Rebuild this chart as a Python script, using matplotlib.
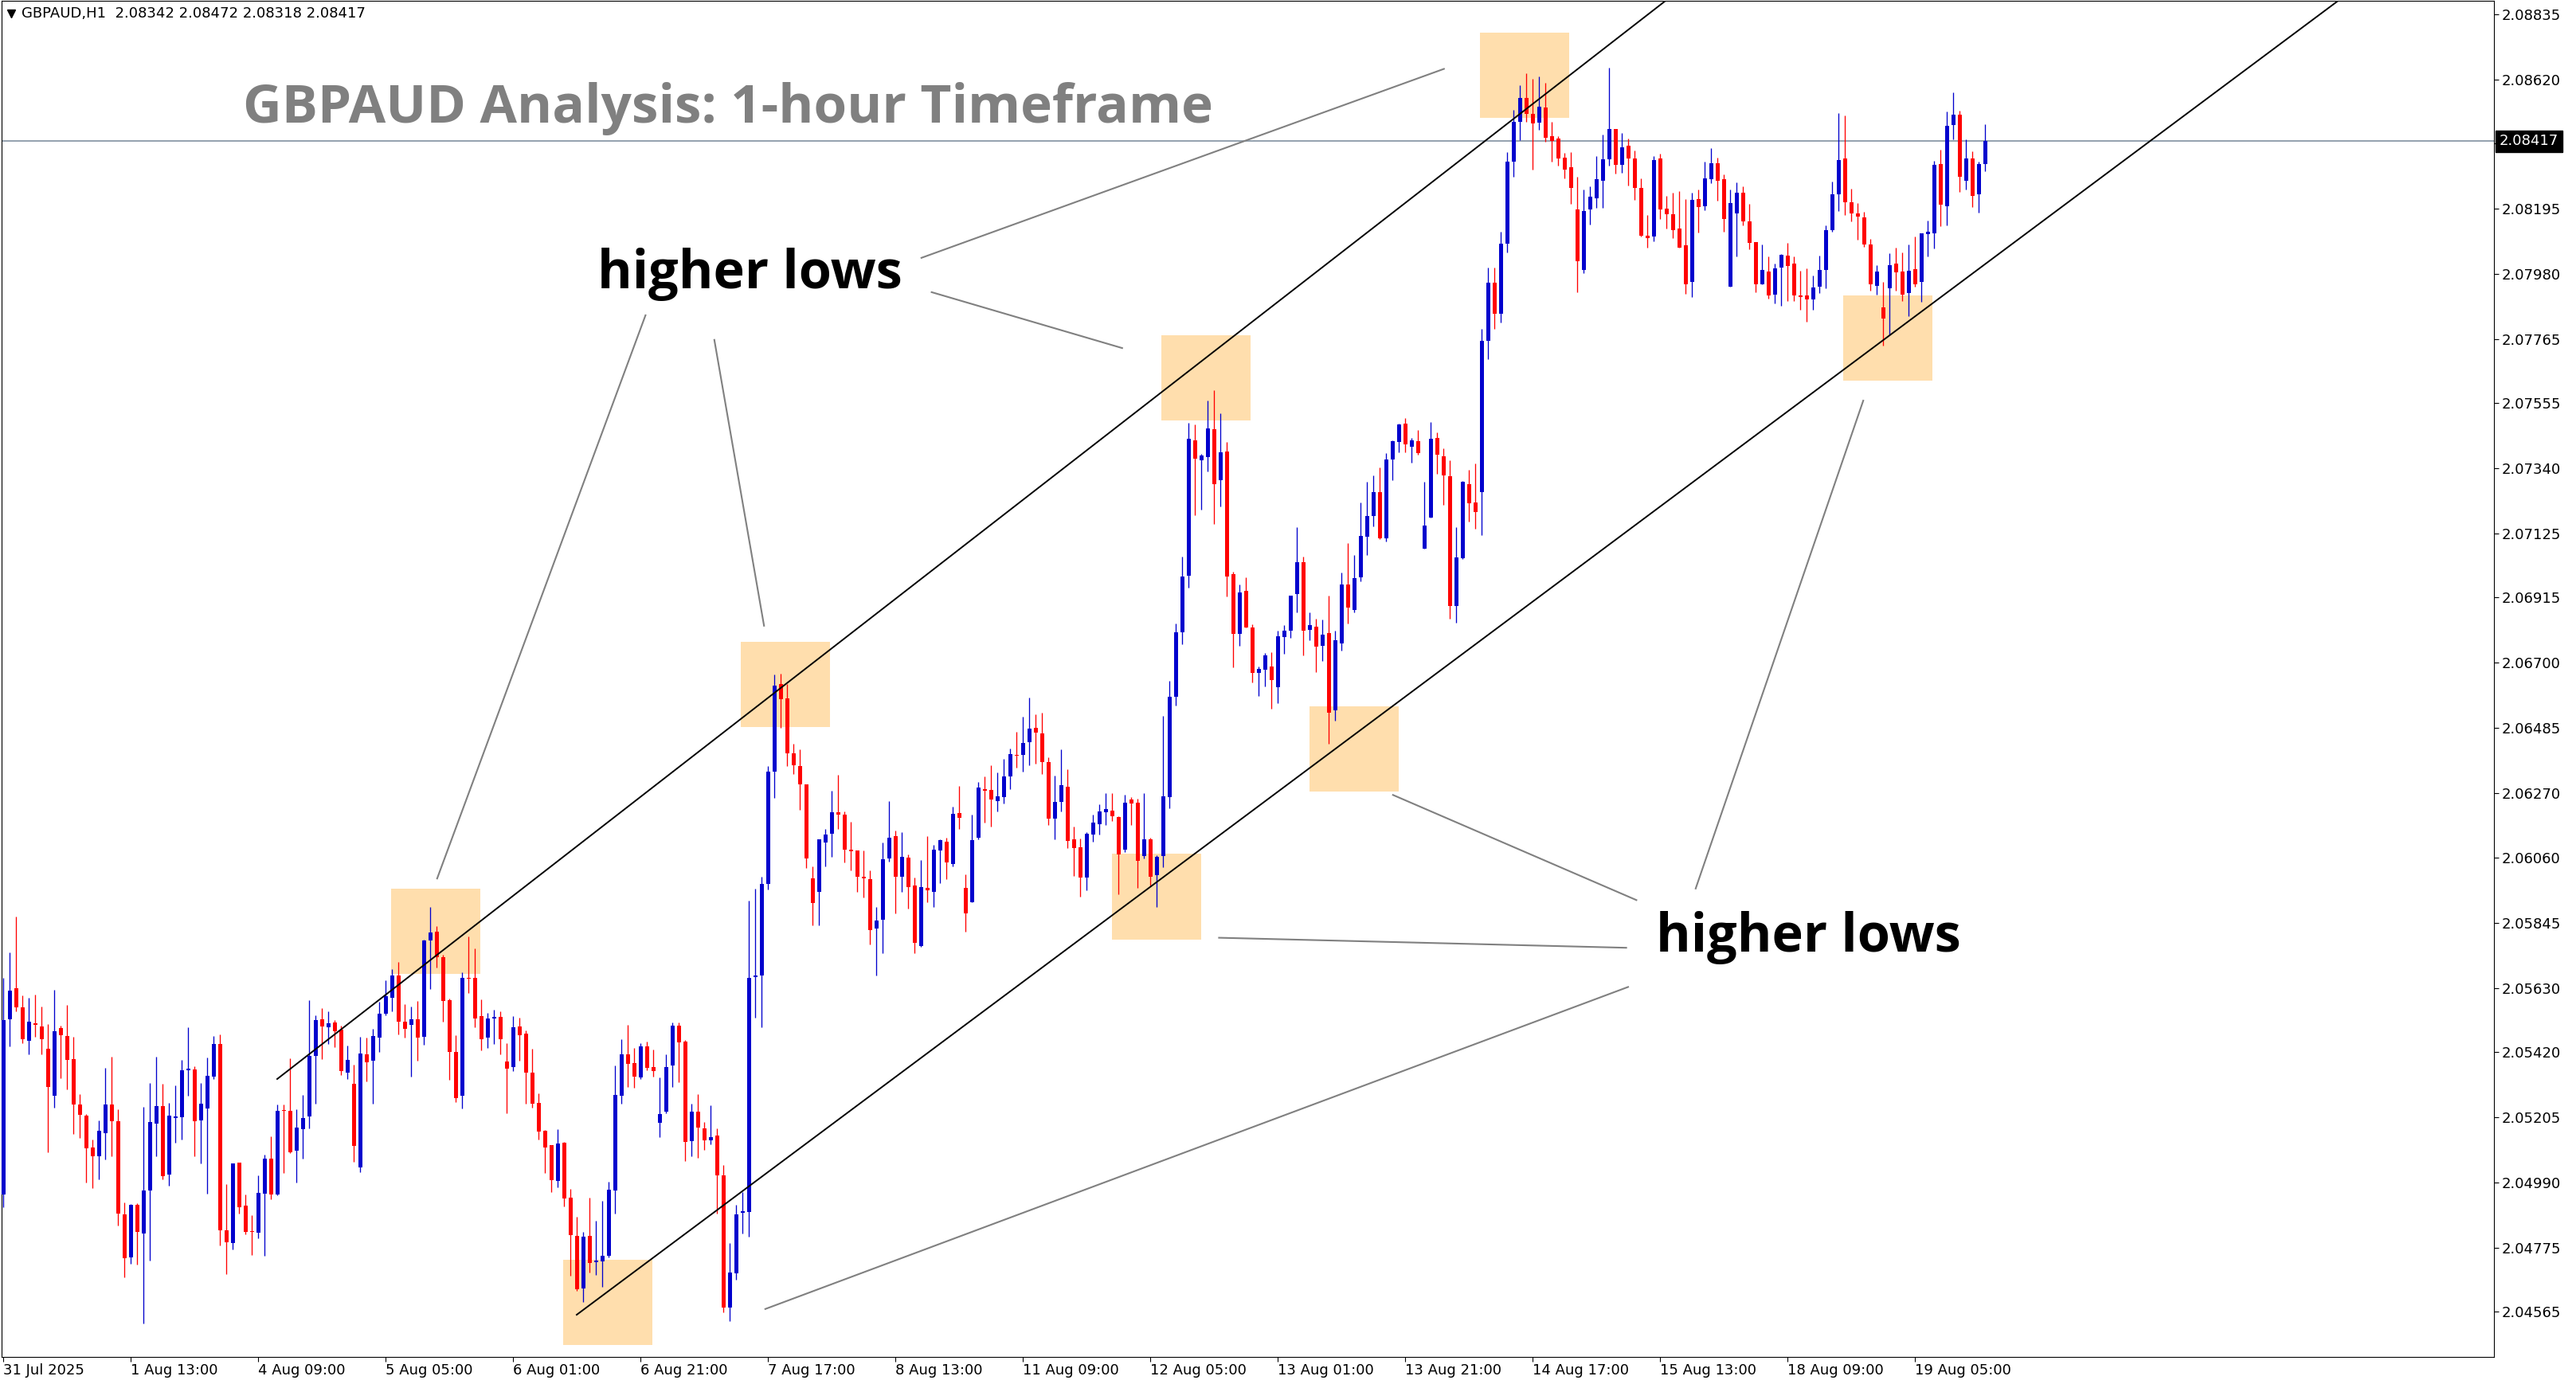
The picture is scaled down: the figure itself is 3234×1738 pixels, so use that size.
import numpy as np
import matplotlib.pyplot as plt
from matplotlib.patches import Rectangle
from matplotlib.transforms import blended_transform_factory

# GBPAUD H1 candles, prices in points (1e-5)
opens = [
    204949, 205526, 205629, 205566, 205457, 205514, 205503, 205430, 205276, 205498,
    205472, 205396, 205246, 205209, 205105, 205076, 205153, 205246, 205191, 204884,
    204744, 204915, 204822, 204964, 205184, 205241, 205016, 205202, 205203, 205358,
    205362, 205195, 205232, 205339, 205446, 204832, 204791, 205055, 204914, 204830,
    204825, 204953, 205068, 204951, 205228, 205225, 205093, 205164, 205208, 205407,
    205527, 205501, 205517, 205493, 205352, 205314, 205040, 205412, 205389, 205465,
    205546, 205598, 205671, 205519, 205507, 205527, 205470, 205787, 205815, 205731,
    205590, 205419, 205276, 205663, 205663, 205537, 205465, 205528, 205535, 205388,
    205370, 205503, 205480, 205352, 205252, 205160, 205113, 204994, 205121, 204940,
    204814, 204640, 204814, 204726, 204731, 204747, 204962, 205274, 205412, 205383,
    205336, 205438, 205370, 205187, 205222, 205374, 205506, 205454, 205125, 205223,
    205168, 205127, 205145, 205014, 204578, 204691, 204890, 204892, 205665, 205671,
    205973, 206342, 206631, 206584, 206403, 206361, 206301, 205991, 205946, 206108,
    206138, 206207, 206199, 206086, 206082, 205996, 205988, 205825, 205853, 206056,
    206130, 205997, 206059, 205967, 205769, 205958, 205947, 206081, 206111, 206039,
    206206, 205959, 205911, 206123, 206284, 206282, 206246, 206257, 206327, 206397,
    206398, 206440, 206486, 206468, 206374, 206188, 206243, 206292, 206119, 206093,
    205994, 206136, 206170, 206207, 206214, 206193, 206086, 206250, 206240, 206065,
    206119, 206000, 206063, 206257, 206589, 206800, 206987, 207432, 207367, 207378,
    207469, 207300, 207396, 206992, 206794, 206937, 206816, 206668, 206678, 206688,
    206619, 206785, 206806, 206925, 207032, 206808, 206819, 206757, 206798, 206543,
    206765, 206958, 206875, 206982, 207114, 207182, 207262, 207111, 207368, 207426,
    207488, 207410, 207430, 207077, 207177, 207440, 207380, 207315, 206888, 207043,
    207288, 207228, 207263, 207760, 207950, 207850, 208080, 208350, 208480, 208560,
    208506, 208479, 208527, 208433, 208425, 208362, 208331, 208192, 207994, 208193,
    208230, 208287, 208358, 208457, 208340, 208402, 208360, 208263, 208105, 208104,
    208360, 208195, 208176, 208129, 208074, 207954, 208226, 208203, 208292, 208345,
    208292, 207939, 208178, 208248, 208153, 208085, 207945, 207988, 207911, 208000,
    208041, 208015, 207910, 207910, 207895, 207937, 207994, 208123, 208243, 208360,
    208216, 208180, 208167, 208077, 207942, 207870, 207932, 208015, 207988, 207916,
    207996, 207953, 208110, 208115, 208342, 208204, 208469, 208505, 208288, 208360,
    208243, 208342,
]
highs = [
    205664, 205747, 205865, 205605, 205597, 205608, 205569, 205511, 205624, 205506,
    205574, 205469, 205280, 205215, 205131, 205194, 205367, 205403, 205231, 204924,
    204919, 204921, 205238, 205317, 205403, 205314, 205252, 205309, 205394, 205500,
    205372, 205317, 205401, 205472, 205477, 204984, 205052, 205056, 204950, 204882,
    205013, 205081, 205141, 205246, 205246, 205399, 205231, 205278, 205590, 205540,
    205562, 205553, 205525, 205506, 205440, 205378, 205469, 205467, 205495, 205585,
    205655, 205692, 205716, 205577, 205569, 205587, 205790, 205896, 205833, 205739,
    205595, 205474, 205681, 205798, 205760, 205592, 205548, 205558, 205552, 205448,
    205537, 205532, 205490, 205429, 205284, 205163, 205113, 205166, 205124, 204969,
    204877, 204828, 204940, 204864, 204930, 204993, 205375, 205462, 205509, 205433,
    205449, 205454, 205428, 205336, 205412, 205517, 205517, 205459, 205250, 205281,
    205189, 205244, 205168, 205046, 204790, 204917, 204958, 205918, 205957, 205996,
    206361, 206662, 206665, 206631, 206434, 206416, 206301, 206031, 206120, 206152,
    206279, 206332, 206211, 206177, 206082, 206081, 206018, 205897, 206109, 206246,
    206148, 206143, 206069, 205994, 206051, 206130, 206101, 206119, 206125, 206227,
    206295, 206004, 206201, 206308, 206326, 206363, 206340, 206384, 206418, 206473,
    206523, 206586, 206531, 206536, 206389, 206329, 206416, 206350, 206161, 206122,
    206143, 206201, 206235, 206271, 206271, 206194, 206266, 206258, 206253, 206271,
    206125, 206067, 206526, 206640, 206830, 207050, 207491, 207484, 207388, 207563,
    207597, 207521, 207428, 207000, 206958, 206981, 206828, 206688, 206732, 206734,
    206807, 206825, 206920, 207146, 207049, 206865, 206846, 206842, 206920, 206807,
    206997, 207094, 207055, 207228, 207296, 207317, 207342, 207391, 207432, 207488,
    207506, 207441, 207467, 207296, 207493, 207459, 207406, 207367, 207147, 207299,
    207336, 207357, 207800, 208000, 208000, 208120, 208380, 208520, 208600, 208640,
    208622, 208630, 208609, 208480, 208433, 208378, 208381, 208299, 208257, 208268,
    208368, 208438, 208659, 208457, 208444, 208425, 208386, 208294, 208174, 208368,
    208375, 208237, 208247, 208252, 208226, 208247, 208257, 208349, 208395, 208363,
    208308, 208259, 208282, 208269, 208211, 208085, 208077, 208038, 208015, 208046,
    208083, 208038, 207991, 207999, 207975, 208041, 208140, 208285, 208510, 208502,
    208261, 208214, 208185, 208096, 208009, 207954, 208048, 208067, 208051, 208077,
    208104, 208115, 208156, 208353, 208389, 208515, 208578, 208518, 208423, 208384,
    208350, 208472,
]
lows = [
    204908, 205438, 205553, 205449, 205410, 205470, 205412, 205089, 205236, 205332,
    205297, 205149, 205135, 204990, 204970, 205001, 205064, 205076, 204849, 204678,
    204722, 204718, 204524, 204733, 205076, 205001, 204978, 205121, 205132, 205276,
    205076, 205053, 204953, 205331, 204781, 204689, 204770, 204888, 204819, 204752,
    204807, 204749, 204935, 204948, 205022, 205087, 204990, 205067, 205168, 205250,
    205395, 205446, 205434, 205344, 205331, 205058, 205024, 205321, 205250, 205418,
    205539, 205554, 205478, 205467, 205339, 205391, 205444, 205625, 205698, 205520,
    205328, 205255, 205234, 205612, 205501, 205425, 205431, 205446, 205412, 205218,
    205357, 205389, 205250, 205235, 205130, 205022, 204959, 204973, 204910, 204682,
    204634, 204595, 204692, 204684, 204645, 204743, 204886, 205248, 205305, 205300,
    205329, 205358, 205337, 205138, 205216, 205303, 205319, 205059, 205077, 205070,
    205098, 205114, 204887, 204562, 204534, 204670, 204821, 204812, 205531, 205500,
    205954, 206255, 206485, 206359, 206334, 206216, 206024, 205837, 205836, 206031,
    206061, 206153, 206042, 206017, 205947, 205927, 205773, 205671, 205743, 206045,
    205874, 205947, 205892, 205745, 205764, 205911, 205895, 205976, 205989, 206031,
    206152, 205816, 205911, 206118, 206173, 206160, 206212, 206238, 206283, 206356,
    206343, 206364, 206367, 206335, 206167, 206120, 206212, 206091, 205999, 205931,
    205952, 206112, 206136, 206167, 206178, 205939, 206076, 206165, 205960, 206055,
    205966, 205895, 206026, 206220, 206560, 206760, 206947, 207187, 207205, 207329,
    207158, 207214, 206919, 206684, 206757, 206815, 206636, 206592, 206623, 206550,
    206566, 206730, 206781, 206865, 206725, 206774, 206670, 206705, 206433, 206509,
    206741, 206830, 206867, 206967, 207056, 207148, 207106, 207098, 207300, 207392,
    207392, 207358, 207384, 207077, 207177, 207323, 207221, 206846, 206833, 207041,
    207164, 207140, 207119, 207700, 207800, 207820, 208050, 208300, 208420, 208480,
    208324, 208455, 208416, 208350, 208337, 208295, 208211, 207920, 207983, 208143,
    208198, 208198, 208337, 208311, 208313, 208271, 208224, 208104, 208067, 208088,
    208161, 208130, 208098, 208067, 207915, 207905, 208117, 208190, 208280, 208220,
    208120, 207939, 208039, 208141, 208060, 207921, 207945, 207900, 207882, 207874,
    207890, 207890, 207861, 207824, 207861, 207918, 207934, 208120, 208186, 208175,
    208152, 208094, 208070, 207926, 207913, 207743, 207777, 207926, 207892, 207840,
    207939, 207887, 208039, 208063, 208136, 208139, 208422, 208251, 208259, 208199,
    208183, 208318,
]
closes = [
    205524, 205622, 205567, 205460, 205519, 205509, 205460, 205305, 205488, 205473,
    205392, 205247, 205213, 205101, 205076, 205160, 205246, 205192, 204888, 204741,
    204915, 204828, 204963, 205189, 205241, 205009, 205209, 205208, 205359, 205365,
    205192, 205249, 205340, 205446, 204833, 204793, 205052, 204909, 204828, 204827,
    204955, 205068, 204951, 205225, 205224, 205090, 205171, 205202, 205406, 205525,
    205504, 205514, 205486, 205355, 205394, 205111, 205414, 205386, 205472, 205545,
    205603, 205671, 205518, 205494, 205527, 205467, 205786, 205813, 205732, 205588,
    205420, 205268, 205663, 205659, 205530, 205462, 205529, 205535, 205462, 205363,
    205501, 205475, 205352, 205248, 205156, 205104, 204996, 205118, 204938, 204815,
    204637, 204812, 204724, 204733, 204749, 204966, 205278, 205412, 205379, 205339,
    205438, 205366, 205355, 205215, 205370, 205506, 205450, 205122, 205223, 205169,
    205127, 205139, 205012, 204578, 204694, 204885, 204895, 205663, 205671, 205971,
    206342, 206626, 206579, 206401, 206362, 206299, 206056, 205908, 206120, 206136,
    206207, 206199, 206084, 206079, 205996, 205990, 205820, 205852, 206054, 206123,
    205997, 206062, 205963, 205777, 205962, 205952, 206085, 206117, 206044, 206203,
    206191, 205876, 206117, 206290, 206280, 206251, 206261, 206326, 206400, 206393,
    206436, 206484, 206469, 206372, 206186, 206243, 206298, 206115, 206089, 205992,
    206138, 206174, 206211, 206219, 206194, 206068, 206240, 206238, 206047, 206119,
    205997, 206062, 206261, 206589, 206800, 206985, 207438, 207371, 207383, 207472,
    207289, 207393, 206985, 206794, 206931, 206815, 206668, 206679, 206724, 206644,
    206787, 206806, 206920, 207032, 206806, 206825, 206754, 206793, 206537, 206774,
    206958, 206881, 206979, 207117, 207183, 207262, 207109, 207370, 207430, 207485,
    207418, 207433, 207389, 207152, 207438, 207384, 207318, 206886, 207047, 207296,
    207226, 207195, 207760, 207950, 207850, 208080, 208350, 208480, 208560, 208506,
    208476, 208530, 208429, 208418, 208361, 208324, 208264, 208022, 208187, 208234,
    208292, 208357, 208457, 208340, 208396, 208361, 208264, 208106, 208098, 208354,
    208193, 208176, 208125, 208067, 207946, 208223, 208201, 208294, 208345, 208288,
    208160, 208214, 208248, 208154, 208081, 207945, 207994, 207908, 207999, 208043,
    208005, 207908, 207905, 207895, 207936, 207994, 208125, 208243, 208355, 208217,
    208180, 208170, 208076, 207947, 207988, 207832, 208009, 207984, 207913, 207991,
    207947, 208115, 208119, 208340, 208207, 208468, 208505, 208299, 208360, 208238,
    208342, 208417,
]

time_labels = ["31 Jul 2025", "1 Aug 13:00", "4 Aug 09:00", "5 Aug 05:00",
               "6 Aug 01:00", "6 Aug 21:00", "7 Aug 17:00", "8 Aug 13:00",
               "11 Aug 09:00", "12 Aug 05:00", "13 Aug 01:00", "13 Aug 21:00",
               "14 Aug 17:00", "15 Aug 13:00", "18 Aug 09:00", "19 Aug 05:00"]
label_every = 20
price_ticks = [2.04565, 2.04775, 2.04990, 2.05205, 2.05420, 2.05630, 2.05845,
               2.06060, 2.06270, 2.06485, 2.06700, 2.06915, 2.07125, 2.07340,
               2.07555, 2.07765, 2.07980, 2.08195, 2.08410, 2.08620, 2.08835]
symbol = "GBPAUD,H1"
title = "GBPAUD Analysis: 1-hour Timeframe"
note = "higher lows"

# highlighted swing zones: (first bar, top price)
zones = [(60.9, 2.05956), (87.9, 2.04735), (115.8, 2.06769), (174.0, 2.06071),
         (181.8, 2.07779), (205.0, 2.06557), (231.8, 2.08774), (288.8, 2.07909)]
zone_w, zone_h = 13.95, 0.00281

# channel lines: two points each (bar, price)
upper_line = [(43.0, 2.05330), (239.5, 2.08531)]
lower_line = [(90.0, 2.04554), (319.5, 2.08145)]

# pointer lines from the labels to the zones
pointers = [((144.1, 2.08033), (226.1, 2.08655)),
            ((145.7, 2.07920), (175.6, 2.07736)),
            ((100.8, 2.07844), (68.1, 2.05990)),
            ((111.6, 2.07763), (119.4, 2.06822)),
            ((291.9, 2.07563), (265.6, 2.05957)),
            ((218.1, 2.06265), (256.3, 2.05919)),
            ((190.8, 2.05795), (254.7, 2.05762)),
            ((119.6, 2.04573), (255.0, 2.05633))]

o = np.array(opens) / 1e5
h = np.array(highs) / 1e5
l = np.array(lows) / 1e5
c = np.array(closes) / 1e5
x = np.arange(len(o))

BLUE = "#0000CD"
RED = "#FF0000"
W, H = 3234, 1738
fig = plt.figure(figsize=(W / 100, H / 100), dpi=100)
ax = fig.add_axes([2 / W, 1 - 1704 / H, 3129 / W, 1703 / H])
ax.set_xlim(-0.25, 390.875)
ax.set_ylim(2.044152, 2.088791)

for x0, top in zones:
    ax.add_patch(Rectangle((x0, top - zone_h), zone_w, zone_h,
                           facecolor="#FFDEAD", edgecolor="none", zorder=1))

ax.axhline(c[-1], color="#778899", lw=1.1, zorder=1.5)

col = np.where(c >= o, BLUE, RED)
ax.vlines(x, l, h, colors=col, linewidth=0.95, zorder=3)
ax.bar(x, np.maximum(np.abs(c - o), 0.00003), bottom=np.minimum(o, c),
       width=0.625, color=col, linewidth=0, zorder=3)

for (xa, ya), (xb, yb) in [upper_line, lower_line]:
    k = (yb - ya) / (xb - xa)
    ax.plot([xa, 400], [ya, ya + k * (400 - xa)], color="black", lw=1.4, zorder=4)

for (xa, ya), (xb, yb) in pointers:
    ax.plot([xa, xb], [ya, yb], color="#808080", lw=1.5, zorder=4)

ax.text(37.6, 2.08525, title, fontsize=48.5, fontweight="bold", color="#808080",
        family="Open Sans", ha="left", va="center", zorder=5)
ax.text(93.3, 2.07979, note, fontsize=48, fontweight="bold", color="black",
        family="Open Sans", ha="left", va="center", zorder=5)
ax.text(259.4, 2.05795, note, fontsize=48, fontweight="bold", color="black",
        family="Open Sans", ha="left", va="center", zorder=5)

# header
ax.plot([0.0038], [0.9905], marker="v", color="black", markersize=7,
        transform=ax.transAxes, clip_on=False)
ax.text(0.008, 0.9905,
        f"{symbol}  {o[-1]:.5f} {h[-1]:.5f} {l[-1]:.5f} {c[-1]:.5f}",
        transform=ax.transAxes, fontsize=13, ha="left", va="center")

# axes styling
for s in ax.spines.values():
    s.set_color("black")
    s.set_linewidth(0.8)
ax.yaxis.tick_right()
ax.set_yticks(price_ticks)
ax.set_yticklabels([f"{p:.5f}" for p in price_ticks])
ax.tick_params(axis="y", length=4, width=0.8, pad=3, labelsize=13)
ticks = list(range(0, label_every * len(time_labels), label_every))
ax.set_xticks(ticks)
ax.set_xticklabels(time_labels)
for t in ax.get_xticklabels():
    t.set_horizontalalignment("left")
ax.tick_params(axis="x", length=4, width=0.8, pad=2, labelsize=13)

tr = blended_transform_factory(ax.transAxes, ax.transData)
ax.annotate(f"{c[-1]:.5f}", xy=(1.0, c[-1]), xycoords=tr, xytext=(5, 0),
            textcoords="offset points", ha="left", va="center", color="white",
            fontsize=13, zorder=6,
            bbox=dict(boxstyle="square,pad=0.25", fc="black", ec="black"))

fig.savefig("out.png", dpi=100, facecolor="white")
